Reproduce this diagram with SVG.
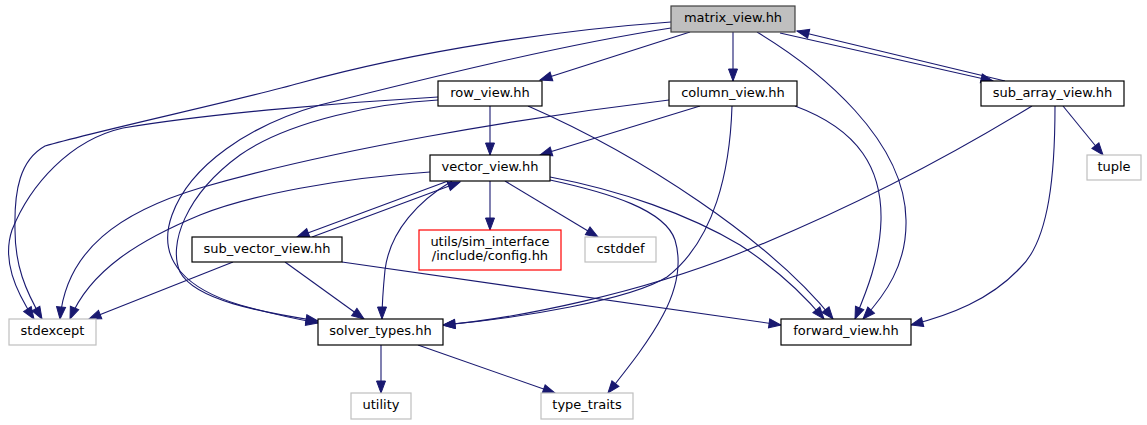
<svg xmlns="http://www.w3.org/2000/svg" width="1147" height="425" viewBox="0 0 1147 425">
<style>
.n rect{fill:#ffffff;stroke:#000000;stroke-width:1.2}
.n.sys rect{stroke:#bfbfbf}
.n.miss rect{stroke:#ff0000}
.n.main rect{fill:#bfbfbf;stroke:#404040}
.n text{font-family:"DejaVu Sans","Liberation Sans",sans-serif;font-size:13px;fill:#000000;text-anchor:middle}
#edges path{fill:none;stroke:#191970;stroke-width:1.1;marker-end:url(#a)}
</style>
<defs>
<marker id="a" markerWidth="12" markerHeight="10" refX="12" refY="4.5" orient="auto" markerUnits="userSpaceOnUse" overflow="visible">
<path d="M0,0 L12,4.5 L0,9 z" fill="#191970" stroke="#191970" stroke-width="1"/>
</marker>
</defs>
<rect width="1147" height="425" fill="#ffffff"/>
<g id="edges">
<path d="M690,32 L540,80"/>
<path d="M733,32 L733,81"/>
<path d="M780,33 L993,81"/>
<path d="M1005,81 L797,31"/>
<path d="M757,32 C820,70 905,140 906,220 C907,265 885,295 863,319"/>
<path d="M671,22 C560,30 420,50 300,83 C240,100 100,130 45,146 C20,160 14,190 15,230 C15,265 25,290 42,319"/>
<path d="M671,28 C560,45 420,80 320,105 C250,125 190,165 172,215 C155,262 190,290 240,305 C265,312 290,318 318,323"/>
<path d="M438,97 C330,103 200,115 123,128 C70,140 30,185 12,230 C2,260 15,290 34,319"/>
<path d="M490,106 L490,155"/>
<path d="M438,100 C380,103 290,120 240,155 C185,195 168,245 180,272 C195,300 260,312 318,321"/>
<path d="M528,106 C640,155 770,240 833,319"/>
<path d="M700,106 L540,155"/>
<path d="M669,100 C520,118 330,150 200,188 C120,212 66,250 60,319"/>
<path d="M732,106 C730,170 715,240 667,277 C630,300 520,318 443,325"/>
<path d="M795,106 C860,130 882,170 881,220 C880,260 865,295 855,319"/>
<path d="M1032,106 C960,150 860,205 740,253 C640,293 520,318 443,325"/>
<path d="M1055,106 C1055,170 1050,240 1020,268 C990,300 950,315 911,325"/>
<path d="M1063,106 L1103,155"/>
<path d="M448,181 L297,237"/>
<path d="M312,237 L460,182"/>
<path d="M490,181 L490,230"/>
<path d="M505,181 L598,237"/>
<path d="M550,180 C610,193 665,210 675,240 C690,290 650,340 608,393"/>
<path d="M550,177 C620,190 690,215 740,245 C775,268 800,290 824,319"/>
<path d="M452,181 C420,200 390,230 385,270 C383,290 382,305 382,319"/>
<path d="M430,172 C340,178 250,195 200,215 C140,240 90,270 70,319"/>
<path d="M233,262 L89,319"/>
<path d="M285,262 L364,319"/>
<path d="M342,262 L781,325"/>
<path d="M381,345 L381,393"/>
<path d="M418,345 L555,393"/>
</g>
<g id="matrix_view" class="n main"><rect x="671" y="6" width="124" height="26"/><text x="733" y="22">matrix_view.hh</text></g>
<g id="row_view" class="n"><rect x="438" y="81" width="104" height="25"/><text x="490" y="97">row_view.hh</text></g>
<g id="column_view" class="n"><rect x="669" y="81" width="128" height="25"/><text x="733" y="97">column_view.hh</text></g>
<g id="sub_array_view" class="n"><rect x="981" y="81" width="143" height="25"/><text x="1052.5" y="97">sub_array_view.hh</text></g>
<g id="vector_view" class="n"><rect x="430" y="155" width="120" height="26"/><text x="490" y="171">vector_view.hh</text></g>
<g id="tuple" class="n sys"><rect x="1087" y="155" width="54" height="25"/><text x="1114" y="171">tuple</text></g>
<g id="sub_vector_view" class="n"><rect x="192" y="237" width="150" height="25"/><text x="267" y="253">sub_vector_view.hh</text></g>
<g id="config" class="n miss"><rect x="419" y="230" width="142" height="40"/><text x="490" y="246">utils/sim_interface</text><text x="490" y="260">/include/config.hh</text></g>
<g id="cstddef" class="n sys"><rect x="585" y="237" width="71" height="25"/><text x="620.5" y="253">cstddef</text></g>
<g id="stdexcept" class="n sys"><rect x="9" y="319" width="87" height="26"/><text x="52.5" y="335">stdexcept</text></g>
<g id="solver_types" class="n"><rect x="318" y="319" width="125" height="26"/><text x="380.5" y="335">solver_types.hh</text></g>
<g id="forward_view" class="n"><rect x="781" y="319" width="130" height="26"/><text x="846" y="335">forward_view.hh</text></g>
<g id="utility" class="n sys"><rect x="351" y="393" width="60" height="26"/><text x="381" y="409">utility</text></g>
<g id="type_traits" class="n sys"><rect x="541" y="393" width="92" height="26"/><text x="587" y="409">type_traits</text></g>
</svg>
